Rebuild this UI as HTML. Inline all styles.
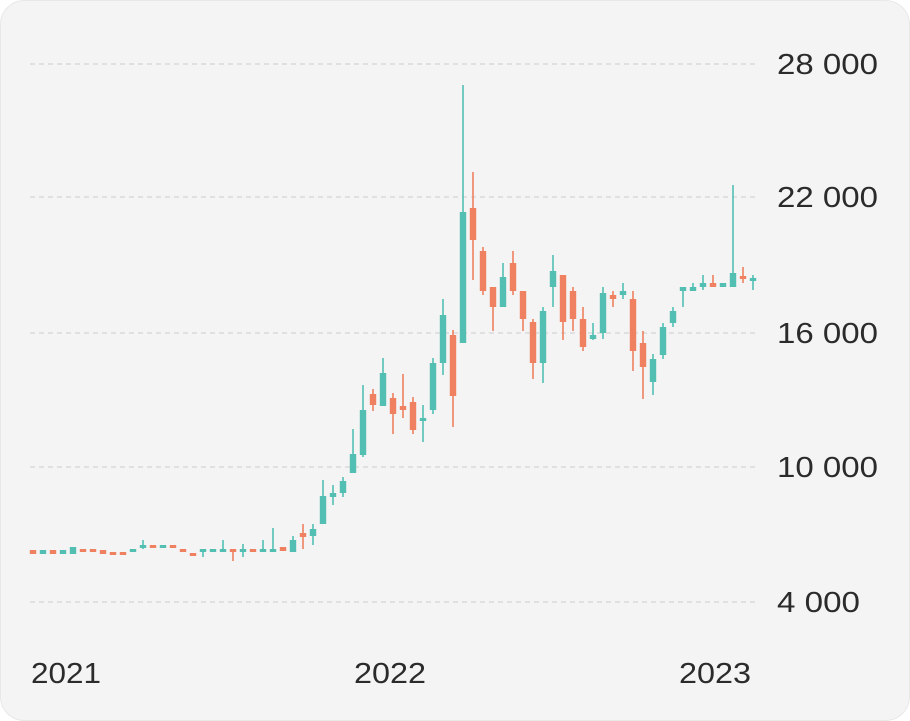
<!DOCTYPE html>
<html><head><meta charset="utf-8"><style>
html,body{margin:0;padding:0;background:#fff;}
svg{display:block;}
text{font-family:"Liberation Sans",sans-serif;fill:#2b2b2b;font-size:29px;}
</style></head><body>
<svg width="910" height="721" viewBox="0 0 910 721">
<rect x="0.5" y="0.5" width="909" height="720" rx="24" fill="#f4f4f4" stroke="#e8e8e8"/>
<g stroke="#dadada" stroke-width="1.5" stroke-dasharray="5,4">
<line x1="30" x2="756" y1="64" y2="64"/>
<line x1="30" x2="756" y1="197" y2="197"/>
<line x1="30" x2="756" y1="333" y2="333"/>
<line x1="30" x2="756" y1="467" y2="467"/>
<line x1="30" x2="756" y1="602" y2="602"/>
</g>
<text x="777" y="74" textLength="101" lengthAdjust="spacingAndGlyphs">28 000</text>
<text x="777" y="207" textLength="101" lengthAdjust="spacingAndGlyphs">22 000</text>
<text x="777" y="343" textLength="101" lengthAdjust="spacingAndGlyphs">16 000</text>
<text x="777" y="477" textLength="101" lengthAdjust="spacingAndGlyphs">10 000</text>
<text x="777" y="612" textLength="83" lengthAdjust="spacingAndGlyphs">4 000</text>
<text x="31" y="683" textLength="70" lengthAdjust="spacingAndGlyphs">2021</text>
<text x="354" y="683" textLength="72" lengthAdjust="spacingAndGlyphs">2022</text>
<text x="679" y="683" textLength="72" lengthAdjust="spacingAndGlyphs">2023</text>
<g id="c"></g>
</svg>
<script>
var G="#52bfb2",R="#ef8160";
// [x, color, top, bottom, high, low]
var d=[
[33,R,550,554],[43,G,550,554],[53,R,550,554],[63,G,550,554],[73,G,547,554],[83,R,549,552],[93,R,549,552],[103,R,550,554],[113,R,552,554],[123,R,552,554],
[133,G,549,552],[143,G,545,548,540,549],[153,R,545,548],[163,G,545,548],[173,R,545,548],[183,R,549,552],[193,R,553,556],[203,G,549,552,549,557],[213,G,549,552],[223,G,549,552,540,552],
[233,R,549,552,549,561],[243,G,549,552,544,557],[253,R,549,552],[263,G,549,552,540,552],[273,G,549,552,528,552],[283,R,547,551],[293,G,540,552,536,552],[303,R,533,537,524,549],[313,G,529,536,524,545],[323,G,496,524,480,524],
[333,G,493,497,485,505],[343,G,481,493,477,497],[353,G,454,473,429,473],[363,G,410,455,385,457],[373,R,394,405,389,411],[383,G,373,406,358,406],[393,R,398,414,393,434],[403,R,406,410,374,418],[413,R,402,430,397,434],[423,G,418,421,405,442],
[433,G,363,410,358,414],[443,G,315,363,299,375],[453,R,335,396,330,427],[463,G,212,343,85,343],[473,R,208,240,172,280],[483,R,251,291,247,295],[493,R,287,307,287,331],[503,G,277,307,263,307],[513,R,263,291,251,295],[523,R,291,319,291,331],
[533,R,322,363,319,379],[543,G,311,363,307,383],[553,G,271,287,255,307],[563,R,275,322,275,340],[573,R,291,319,287,331],[583,R,319,347,307,351],[593,G,335,339,323,340],[603,G,293,333,287,339],[613,R,295,299,291,307],[623,G,291,295,283,299],
[633,R,299,351,291,371],[643,R,343,367,331,399],[653,G,359,382,354,395],[663,G,327,355,323,359],[673,G,311,323,307,327],[683,G,287,291,287,307],[693,G,287,291,283,291],[703,G,283,287,275,290],[713,R,283,287,275,287],[723,G,283,287],
[733,G,273,287,185,287],[743,R,276,279,267,283],[753,G,278,281,275,290]];
var s="";
d.forEach(function(c){
 if(c[4]!==undefined) s+='<line x1="'+c[0]+'" x2="'+c[0]+'" y1="'+c[4]+'" y2="'+c[5]+'" stroke="'+c[1]+'" stroke-width="1.6"/>';
 var h=Math.max(c[3]-c[2],3);
 s+='<rect x="'+(c[0]-3.2)+'" y="'+c[2]+'" width="6.4" height="'+h+'" fill="'+c[1]+'"/>';
});
document.getElementById("c").innerHTML=s;
</script>
</body></html>
